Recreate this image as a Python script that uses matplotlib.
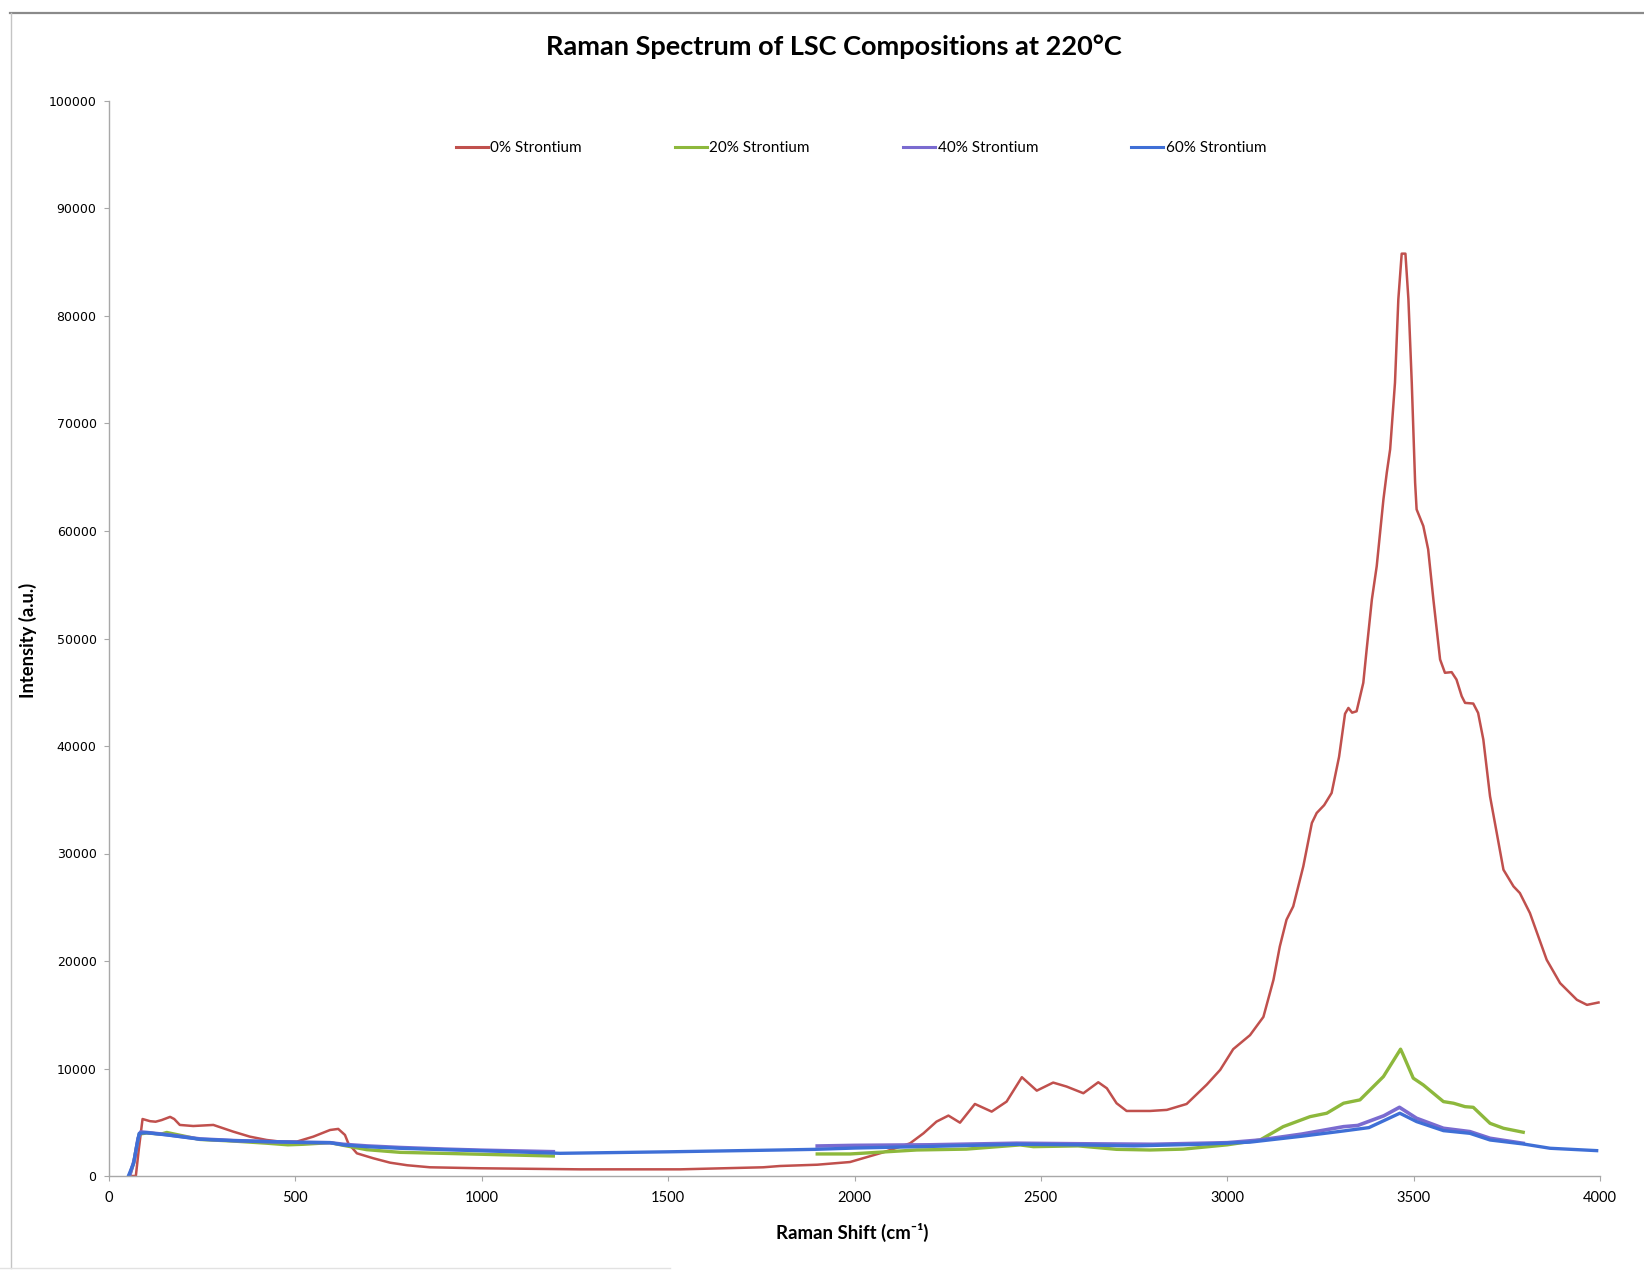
import numpy as np
import matplotlib
matplotlib.use("Agg")
import matplotlib.pyplot as plt
from matplotlib.lines import Line2D

# ---- Raman spectra (shift in cm^-1, intensity in a.u.) ----
sr0_shift = [52, 72, 80, 90, 110, 125, 141, 164, 175, 190, 226, 280, 333, 378, 423, 459, 504,
             548, 593, 615, 633, 642, 665, 709, 754, 800, 861, 995, 1264, 1532, 1755, 1800,
             1900, 1988, 2077, 2149, 2185, 2220, 2252, 2283, 2323, 2368, 2408, 2449, 2489,
             2533, 2569, 2614, 2654, 2677, 2703, 2730, 2793, 2838, 2891, 2945, 2981, 3016,
             3061, 3097, 3124, 3141, 3159, 3177, 3204, 3227, 3240, 3260, 3280, 3300, 3316,
             3325, 3335, 3347, 3365, 3374, 3388, 3401, 3410, 3419, 3428, 3437, 3450, 3459,
             3468, 3478, 3486, 3495, 3504, 3508, 3526, 3539, 3553, 3571, 3584, 3602, 3615,
             3629, 3638, 3660, 3673, 3687, 3705, 3723, 3741, 3768, 3785, 3812, 3857, 3893,
             3938, 3965, 3996]
sr0_int = [0, 0, 2500, 5300, 5100, 5050, 5200, 5500, 5300, 4750, 4650, 4750, 4130, 3660, 3350,
           3200, 3200, 3660, 4280, 4380, 3820, 3040, 2110, 1650, 1240, 1000, 810, 720, 620,
           620, 810, 930, 1050, 1300, 2200, 3040, 3970, 5060, 5620, 4960, 6700, 5990, 6920,
           9190, 7940, 8690, 8320, 7700, 8720, 8160, 6770, 6050, 6050, 6150, 6700, 8500,
           9870, 11800, 13100, 14800, 18250, 21350, 23840, 25080, 28800, 32840, 33770,
           34500, 35630, 39000, 43000, 43540, 43100, 43230, 45880, 48980, 53630, 56730,
           59840, 62940, 65430, 67600, 73800, 81560, 85800, 85800, 81560, 73800, 64500,
           62010, 60460, 58290, 53630, 48050, 46810, 46870, 46180, 44630, 44010, 43950,
           43080, 40600, 35320, 31910, 28490, 26940, 26320, 24460, 20110, 17940, 16390,
           15920, 16140]

# 20 % and 40 % Sr were recorded in two windows (NaN separates them)
sr20_shift = [55, 66, 74, 81, 101, 140, 155, 244, 333, 423, 480, 520, 593, 629, 691, 781,
              905, 1192, np.nan, 1900, 1988, 2167, 2300, 2444, 2480, 2600, 2703, 2793,
              2882, 3000, 3088, 3150, 3222, 3267, 3312, 3356, 3419, 3465, 3472, 3499, 3526,
              3580, 3607, 3638, 3660, 3705, 3741, 3794]
sr20_int = [0, 1200, 2700, 3900, 4000, 3900, 4050, 3400, 3250, 3050, 2900, 2950, 3100,
            2850, 2450, 2200, 2100, 1860, np.nan, 2050, 2050, 2420, 2500, 2890, 2730,
            2800, 2480, 2420, 2500, 2900, 3350, 4590, 5520, 5840, 6770, 7080, 9250,
            11800, 11270, 9100, 8470, 6920, 6770, 6450, 6390, 4900, 4440, 4070]

sr40_shift = [55, 68, 78, 85, 101, 155, 244, 333, 423, 512, 593, 629, 691, 781, 900, 1000,
              1192, np.nan, 1900, 2000, 2200, 2435, 2600, 2800, 3000, 3088, 3200, 3312,
              3350, 3420, 3462, 3508, 3580, 3651, 3705, 3794]
sr40_int = [0, 1500, 3500, 4100, 4050, 3850, 3450, 3300, 3200, 3130, 3100, 2950, 2800,
            2650, 2500, 2400, 2260, np.nan, 2790, 2850, 2900, 3050, 3000, 2950, 3100,
            3350, 3900, 4590, 4700, 5600, 6390, 5370, 4440, 4130, 3510, 3040]

sr60_shift = [52, 66, 74, 81, 101, 155, 244, 333, 423, 512, 593, 629, 691, 781, 900, 1000,
              1210, 1500, 1800, 1894, 2000, 2200, 2435, 2600, 2750, 2927, 3061, 3200,
              3312, 3380, 3463, 3508, 3580, 3651, 3705, 3794, 3866, 3991]
sr60_int = [0, 1180, 2730, 3970, 4030, 3820, 3420, 3290, 3200, 3130, 3100, 2890, 2730,
            2580, 2450, 2350, 2110, 2250, 2420, 2480, 2600, 2750, 2950, 2900, 2800, 2950,
            3150, 3700, 4190, 4500, 5840, 5060, 4220, 3970, 3350, 2980, 2580, 2360]

series_labels = ["0% Strontium", "20% Strontium", "40% Strontium", "60% Strontium"]
series_colors = ["#C0504D", "#8DB83C", "#7A6BD0", "#3F6FD6"]

x_ticks = list(range(0, 4001, 500))
y_ticks = list(range(0, 100001, 10000))

title_text = "Raman Spectrum of LSC Compositions at 220°C"
x_label = "Raman Shift (cm⁻¹)"
y_label = "Intensity (a.u.)"

# ---- figure ----
W, H = 1644, 1273
fig = plt.figure(figsize=(W / 100, H / 100), dpi=100)
fig.patch.set_facecolor("white")

# chart-area frame
fig.add_artist(Line2D([10 / W, 1.0], [1 - 13 / H, 1 - 13 / H], color="#8a8a8a", lw=1.6))
fig.add_artist(Line2D([11 / W, 11 / W], [1 - 13 / H, 1 - 1268 / H], color="#c4c4c4", lw=1.0))
fig.add_artist(Line2D([0, 670 / W], [1 - 1268 / H, 1 - 1268 / H], color="#e2e2e2", lw=1.0))

ax = fig.add_axes([109 / W, 1 - 1176 / H, (1600 - 109) / W, (1176 - 101) / H])
ax.set_facecolor("white")

series = [(sr0_shift, sr0_int), (sr20_shift, sr20_int), (sr40_shift, sr40_int), (sr60_shift, sr60_int)]
widths = [1.8, 2.4, 2.6, 2.4]
for (xs, ys), lab, col, lw in zip(series, series_labels, series_colors, widths):
    ax.plot(xs, ys, color=col, lw=lw, label=lab, solid_joinstyle="round")

ax.set_xlim(0, 4000)
ax.set_ylim(0, 100000)
ax.set_xticks(x_ticks)
ax.set_yticks(y_ticks)
ax.set_xticklabels([str(t) for t in x_ticks], fontfamily="Lato", fontsize=10.5)
ax.set_yticklabels([str(t) for t in y_ticks], fontfamily="DejaVu Sans", fontsize=9)

for s in ("top", "right"):
    ax.spines[s].set_visible(False)
for s in ("left", "bottom"):
    ax.spines[s].set_color("#a8a8a8")
    ax.spines[s].set_linewidth(1.0)
ax.tick_params(axis="both", direction="out", length=3.5, width=0.8, color="#a8a8a8")
ax.tick_params(axis="y", pad=5.5)
ax.tick_params(axis="x", pad=7)

fig.text(834 / W, 1 - 47 / H, title_text, ha="center", va="center",
         fontfamily="Lato", fontweight="bold", fontsize=19.5)
fig.text(852 / W, 1 - 1232 / H, x_label, ha="center", va="center",
         fontfamily=["Lato", "DejaVu Sans"], fontweight="bold", fontsize=13.4)
fig.text(28 / W, 1 - 640 / H, y_label, ha="center", va="center", rotation=90,
         fontfamily="Lato", fontweight="bold", fontsize=13.2)

leg = fig.legend(loc="center", bbox_to_anchor=(861 / W, 1 - 148 / H), ncol=4,
                 frameon=False, prop={"family": "Lato", "size": 11},
                 handlelength=2.1, handletextpad=0.15, columnspacing=6.1)
for h in leg.get_lines():
    h.set_linewidth(2.2)

fig.savefig("out.png", dpi=100, facecolor="white")
